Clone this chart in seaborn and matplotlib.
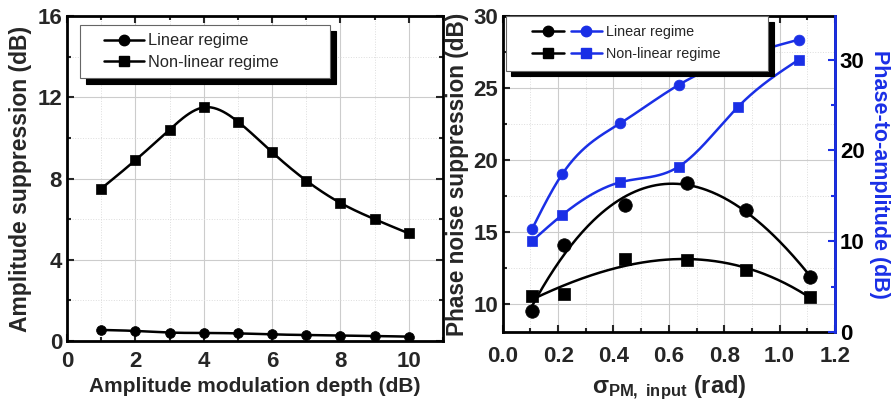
import numpy as np
import pandas as pd
import matplotlib
matplotlib.use("Agg")
import matplotlib.pyplot as plt
import seaborn as sns
from matplotlib.lines import Line2D
from matplotlib.legend_handler import HandlerTuple, HandlerLine2D
from matplotlib.ticker import MultipleLocator

# ---------------- data ----------------
am_depth = [1, 2, 3, 4, 5, 6, 7, 8, 9, 10]
amp_sup_linear = [0.55, 0.50, 0.42, 0.40, 0.38, 0.33, 0.30, 0.27, 0.25, 0.22]
amp_sup_nonlinear = [7.5, 8.9, 10.4, 11.5, 10.8, 9.3, 7.9, 6.8, 6.0, 5.3]

sigma_black = [0.105, 0.22, 0.44, 0.665, 0.88, 1.11]
pn_sup_linear = [9.5, 14.1, 16.9, 18.4, 16.5, 11.9]
pn_sup_nonlinear = [10.6, 10.7, 13.1, 13.05, 12.4, 10.5]

sigma_blue_lin = [0.105, 0.215, 0.425, 0.635, 1.07]
p2a_linear = [11.3, 17.4, 23.0, 27.2, 32.2]
sigma_blue_nl = [0.105, 0.215, 0.425, 0.635, 0.85, 1.07]
p2a_nonlinear = [10.0, 12.9, 16.5, 18.2, 24.8, 30.0]

BLUE = "#1a2fe6"


def natural_spline(x, y, n=200):
    x = np.asarray(x, float); y = np.asarray(y, float)
    k = len(x)
    h = np.diff(x)
    A = np.zeros((k, k)); b = np.zeros(k)
    A[0, 0] = A[-1, -1] = 1
    for i in range(1, k - 1):
        A[i, i - 1] = h[i - 1]; A[i, i] = 2 * (h[i - 1] + h[i]); A[i, i + 1] = h[i]
        b[i] = 3 * ((y[i + 1] - y[i]) / h[i] - (y[i] - y[i - 1]) / h[i - 1])
    c = np.linalg.solve(A, b)
    xs = np.linspace(x[0], x[-1], n)
    ys = np.empty_like(xs)
    for j, xv in enumerate(xs):
        i = min(np.searchsorted(x, xv, side="right") - 1, k - 2)
        dx = xv - x[i]
        bi = (y[i + 1] - y[i]) / h[i] - h[i] * (2 * c[i] + c[i + 1]) / 3
        di = (c[i + 1] - c[i]) / (3 * h[i])
        ys[j] = y[i] + bi * dx + c[i] * dx ** 2 + di * dx ** 3
    return xs, ys


def polyfit_curve(x, y, deg=3, n=200):
    p = np.polyfit(x, y, deg)
    xs = np.linspace(min(x), max(x), n)
    return xs, np.polyval(p, xs)


class ShiftLine(HandlerLine2D):
    def __init__(self, shift, **kw):
        super().__init__(**kw)
        self.shift = shift

    def create_artists(self, legend, orig_handle, xdescent, ydescent, width, height, fontsize, trans):
        return super().create_artists(legend, orig_handle, xdescent - self.shift, ydescent,
                                      width - self.shift, height, fontsize, trans)


class ShiftTuple(HandlerTuple):
    def __init__(self, shift, **kw):
        super().__init__(**kw)
        self.shift = shift

    def create_artists(self, legend, orig_handle, xdescent, ydescent, width, height, fontsize, trans):
        return super().create_artists(legend, orig_handle, xdescent - self.shift, ydescent,
                                      width - self.shift, height, fontsize, trans)


sns.set_theme(style="ticks")
plt.rcParams["font.family"] = ["Liberation Sans", "DejaVu Sans"]
plt.rcParams["mathtext.fontset"] = "custom"
plt.rcParams["mathtext.rm"] = "Liberation Sans:bold"
plt.rcParams["mathtext.it"] = "Liberation Sans:bold"
plt.rcParams["mathtext.bf"] = "Liberation Sans:bold"

fig = plt.figure(figsize=(8.93, 4.09), dpi=100)
ax1 = fig.add_axes([0.075, 0.166, 0.421, 0.795])
ax2 = fig.add_axes([0.563, 0.188, 0.372, 0.773])
ax3 = ax2.twinx()

tick_fs = 16
LW = 1.8


def style_grid(ax):
    ax.grid(which="major", color="#cccccc", lw=0.8, ls="-")
    ax.grid(which="minor", color="#dddddd", lw=0.7, ls=":")
    ax.set_axisbelow(True)


# ---------------- left panel ----------------
xs, ys = natural_spline(am_depth, amp_sup_nonlinear)
sns.lineplot(x=xs, y=ys, ax=ax1, color="black", lw=LW, sort=False)
xs, ys = natural_spline(am_depth, amp_sup_linear)
sns.lineplot(x=xs, y=ys, ax=ax1, color="black", lw=LW, sort=False)
sns.scatterplot(x=am_depth, y=amp_sup_nonlinear, ax=ax1, marker="s", s=58,
                color="black", edgecolor="black", linewidth=0.5, zorder=3)
sns.scatterplot(x=am_depth, y=amp_sup_linear, ax=ax1, marker="o", s=50,
                color="black", edgecolor="black", linewidth=0.5, zorder=3)

ax1.set_xlim(0, 11)
ax1.set_ylim(0, 16)
ax1.xaxis.set_major_locator(MultipleLocator(2))
ax1.xaxis.set_minor_locator(MultipleLocator(1))
ax1.yaxis.set_major_locator(MultipleLocator(4))
ax1.yaxis.set_minor_locator(MultipleLocator(2))
style_grid(ax1)
ax1.tick_params(which="both", direction="in", top=True, right=True, width=1.5)
ax1.tick_params(which="major", length=5, labelsize=tick_fs)
ax1.tick_params(which="minor", length=3)
ax1.tick_params(axis="x", pad=7)
for lab in ax1.get_xticklabels() + ax1.get_yticklabels():
    lab.set_fontweight("bold")
for sp in ax1.spines.values():
    sp.set_linewidth(2); sp.set_color("black")
ax1.set_xlabel("Amplitude modulation depth (dB)", fontsize=15, fontweight="bold", labelpad=4)
ax1.set_ylabel("Amplitude suppression (dB)", fontsize=16.5, fontweight="bold", labelpad=4)

h_lin = Line2D([], [], color="black", lw=LW, marker="o", ms=7.5)
h_nl = Line2D([], [], color="black", lw=LW, marker="s", ms=7.5)
leg1 = ax1.legend([h_lin, h_nl], ["Linear regime", "Non-linear regime"],
                  handler_map={Line2D: ShiftLine(11)},
                  loc="upper left", bbox_to_anchor=(0.035, 0.972, 0.665, 0.0), mode="expand",
                  fontsize=11.8,
                  handlelength=3.4, handletextpad=0.25, borderpad=0.5, labelspacing=0.4,
                  borderaxespad=0,
                  fancybox=False, framealpha=1, edgecolor="#666666",
                  shadow={"color": "black", "alpha": 1, "ox": 4, "oy": -4})
leg1.get_frame().set_linewidth(0.8)

# ---------------- right panel ----------------
xs, ys = polyfit_curve(sigma_black, pn_sup_linear, 3)
sns.lineplot(x=xs, y=ys, ax=ax2, color="black", lw=LW, sort=False)
xs, ys = polyfit_curve(sigma_black, pn_sup_nonlinear, 3)
sns.lineplot(x=xs, y=ys, ax=ax2, color="black", lw=LW, sort=False)
sns.scatterplot(x=sigma_black, y=pn_sup_linear, ax=ax2, marker="o", s=95,
                color="black", edgecolor="black", linewidth=0.5, zorder=3)
sns.scatterplot(x=sigma_black, y=pn_sup_nonlinear, ax=ax2, marker="s", s=70,
                color="black", edgecolor="black", linewidth=0.5, zorder=3)

xs, ys = natural_spline(sigma_blue_lin, p2a_linear)
sns.lineplot(x=xs, y=ys, ax=ax3, color=BLUE, lw=LW, sort=False)
xs, ys = natural_spline(sigma_blue_nl, p2a_nonlinear)
sns.lineplot(x=xs, y=ys, ax=ax3, color=BLUE, lw=LW, sort=False)
sns.scatterplot(x=sigma_blue_lin, y=p2a_linear, ax=ax3, marker="o", s=60,
                color=BLUE, edgecolor=BLUE, linewidth=0.5, zorder=3)
sns.scatterplot(x=sigma_blue_nl, y=p2a_nonlinear, ax=ax3, marker="s", s=52,
                color=BLUE, edgecolor=BLUE, linewidth=0.5, zorder=3)

ax2.set_xlim(0, 1.2)
ax2.set_ylim(8.06, 30)
ax3.set_ylim(0, 34.8)
ax2.xaxis.set_major_locator(MultipleLocator(0.2))
ax2.xaxis.set_minor_locator(MultipleLocator(0.1))
ax2.yaxis.set_major_locator(MultipleLocator(5))
ax2.yaxis.set_minor_locator(MultipleLocator(2.5))
ax3.yaxis.set_major_locator(MultipleLocator(10))
ax3.yaxis.set_minor_locator(MultipleLocator(5))
ax2.xaxis.set_major_formatter(matplotlib.ticker.FormatStrFormatter("%.1f"))
style_grid(ax2)
ax2.tick_params(which="both", direction="in", top=True, width=1.5)
ax2.tick_params(which="major", length=5, labelsize=tick_fs)
ax2.tick_params(which="minor", length=3)
ax2.tick_params(axis="x", pad=10)
ax3.tick_params(which="both", direction="in", colors=BLUE, width=1.5)
ax3.tick_params(which="major", length=5, labelsize=tick_fs, labelcolor="black")
ax3.tick_params(which="minor", length=3)
for lab in ax2.get_xticklabels() + ax2.get_yticklabels() + ax3.get_yticklabels():
    lab.set_fontweight("bold")
for sp in ax2.spines.values():
    sp.set_linewidth(2); sp.set_color("black")
for name, sp in ax3.spines.items():
    sp.set_linewidth(2)
    sp.set_color(BLUE if name == "right" else "black")
ax3.spines["left"].set_visible(False)
ax3.spines["top"].set_visible(False)
ax3.spines["bottom"].set_visible(False)

ax2.set_xlabel(r"$\sigma_{\mathrm{PM,\ input}}$ (rad)", fontsize=17, fontweight="bold", labelpad=5)
ax2.set_ylabel("Phase noise suppression (dB)", fontsize=16.3, fontweight="bold", labelpad=3)
ax3.set_ylabel("Phase-to-amplitude (dB)", fontsize=15.5, fontweight="bold", color=BLUE,
               rotation=-90, labelpad=18)

bk_c = Line2D([], [], color="black", lw=LW, marker="o", ms=7.5)
bl_c = Line2D([], [], color=BLUE, lw=LW, marker="o", ms=7.5)
bk_s = Line2D([], [], color="black", lw=LW, marker="s", ms=7)
bl_s = Line2D([], [], color=BLUE, lw=LW, marker="s", ms=7)
leg2 = ax3.legend([(bk_c, bl_c), (bk_s, bl_s)], ["Linear regime", "Non-linear regime"],
                  handler_map={tuple: ShiftTuple(12.5, ndivide=None, pad=0.5)},
                  loc="upper left", bbox_to_anchor=(0.009, 1.0, 0.79, 0.0), mode="expand",
                  fontsize=10.4,
                  handlelength=6.0, handletextpad=0.27, borderpad=0.65, labelspacing=0.55,
                  borderaxespad=0,
                  fancybox=False, framealpha=1, edgecolor="#666666",
                  shadow={"color": "black", "alpha": 1, "ox": 4, "oy": -4})
leg2.get_frame().set_linewidth(0.8)
leg2.set_zorder(10)

fig.savefig("out.png", dpi=100)
